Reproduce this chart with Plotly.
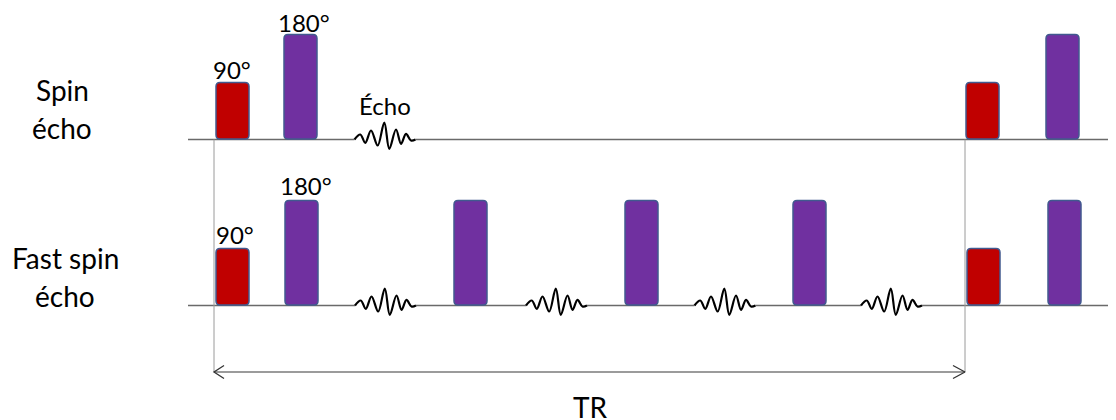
import plotly.graph_objects as go

# ---------------- data ----------------
row_lines = [["Spin", "écho"], ["Fast spin", "écho"]]
row_base = [139.5, 305.5]
line_start = 188
line_end = 1116

pulse_row = [0, 0, 0, 0, 1, 1, 1, 1, 1, 1, 1]
pulse_start = [216, 284, 966, 1046, 216, 285, 454, 625, 793, 967, 1048]
pulse_angle = [90, 180, 90, 180, 90, 180, 180, 180, 180, 90, 180]
pulse_height = {90: 57, 180: 105}
pulse_width = 33
pulse_color = {90: "#C00000", 180: "#7030A0"}

echo_row = [0, 1, 1, 1, 1]
echo_center = [385, 385.5, 556.5, 725, 891.5]
echo_dx = [-30.5, -24.7, -19.7, -14, -7.3, -0.7, 4.3, 11, 16, 21, 26, 30.5]
echo_dy = [0, -5, 3.3, -9, 6, -17, 9.3, -10, 4.3, -5.7, 1, 0]

angle_text = ["90°", "180°", "90°", "180°"]
angle_x = [232, 304, 235, 306]
angle_baseline = [77, 30, 242, 193]

echo_label = "Écho"
echo_label_x = 385
echo_label_baseline = 113

tr_label = "TR"
tr_start = 214
tr_end = 965
tr_y = 372
tr_label_x = 590
tr_label_baseline = 416

label_x = [62, 62, 65, 65]
label_baseline = [99, 137, 267, 305]

FONT = "Lato"
FS_ROW = 28
FS_ANGLE = 24
FS_ECHO = 24
FS_TR = 28

# page offset (browser default body margin)
OFF = 8

fig = go.Figure()

# baselines with gaps at echoes
for r, yb in enumerate(row_base):
    gaps = sorted([(c + echo_dx[0], c + echo_dx[-1]) for c, er in zip(echo_center, echo_row) if er == r])
    xs, ys = [], []
    cur = line_start
    for g0, g1 in gaps:
        xs += [cur, g0, None]
        ys += [yb, yb, None]
        cur = g1
    xs += [cur, line_end]
    ys += [yb, yb]
    fig.add_trace(go.Scatter(x=xs, y=ys, mode="lines", line=dict(color="#6a6a6a", width=1.5),
                             hoverinfo="skip", showlegend=False))

# vertical TR markers
for xv in [tr_start, tr_end]:
    fig.add_trace(go.Scatter(x=[xv, xv], y=[row_base[0], tr_y], mode="lines",
                             line=dict(color="#9a9a9a", width=1), hoverinfo="skip", showlegend=False))

# TR arrow
fig.add_trace(go.Scatter(x=[tr_start, tr_end], y=[tr_y, tr_y], mode="lines",
                         line=dict(color="#7a7a7a", width=1.5), hoverinfo="skip", showlegend=False))
fig.add_trace(go.Scatter(x=[tr_start + 10, tr_start, tr_start + 10, None, tr_end - 12, tr_end, tr_end - 12],
                         y=[tr_y - 6.5, tr_y, tr_y + 6.5, None, tr_y - 6.5, tr_y, tr_y + 6.5],
                         mode="lines", line=dict(color="#333333", width=1.3), hoverinfo="skip", showlegend=False))

# echoes
for c, er in zip(echo_center, echo_row):
    yb = row_base[er]
    fig.add_trace(go.Scatter(x=[c + d for d in echo_dx], y=[yb + d for d in echo_dy], mode="lines",
                             line=dict(color="#000000", width=2.2, shape="spline", smoothing=1.0),
                             hoverinfo="skip", showlegend=False))

# pulses as rounded rectangles
shapes = []
rad = 4
for r, x0, a in zip(pulse_row, pulse_start, pulse_angle):
    x1 = x0 + pulse_width
    y1 = row_base[r] - 0.5
    y0 = row_base[r] - pulse_height[a]
    path = (f"M {x0+rad},{y0} L {x1-rad},{y0} Q {x1},{y0} {x1},{y0+rad} "
            f"L {x1},{y1-rad} Q {x1},{y1} {x1-rad},{y1} L {x0+rad},{y1} Q {x0},{y1} {x0},{y1-rad} "
            f"L {x0},{y0+rad} Q {x0},{y0} {x0+rad},{y0} Z")
    shapes.append(dict(type="path", path=path, xref="x", yref="y", fillcolor=pulse_color[a],
                       line=dict(color="#41598f", width=1.5), layer="above"))

annotations = []
def add_text(t, x, baseline, size):
    annotations.append(dict(text=t, x=x, y=baseline - 0.32 * size, xref="x", yref="y", showarrow=False,
                            xanchor="center", yanchor="middle",
                            font=dict(family=FONT, size=size, color="#000000")))

flat_lines = [l for pair in row_lines for l in pair]
for t, x, b in zip(flat_lines, label_x, label_baseline):
    add_text(t, x, b, FS_ROW)
for t, x, b in zip(angle_text, angle_x, angle_baseline):
    add_text(t, x, b, FS_ANGLE)
add_text(echo_label, echo_label_x, echo_label_baseline, FS_ECHO)
add_text(tr_label, tr_label_x, tr_label_baseline, FS_TR)

fig.update_layout(
    width=1116 - OFF, height=420 - OFF,
    margin=dict(l=0, r=0, t=0, b=0),
    paper_bgcolor="white", plot_bgcolor="white",
    xaxis=dict(range=[OFF, 1116], visible=False, fixedrange=True),
    yaxis=dict(range=[420, OFF], visible=False, fixedrange=True),
    shapes=shapes, annotations=annotations,
    showlegend=False,
)

fig.write_html("out.html")
